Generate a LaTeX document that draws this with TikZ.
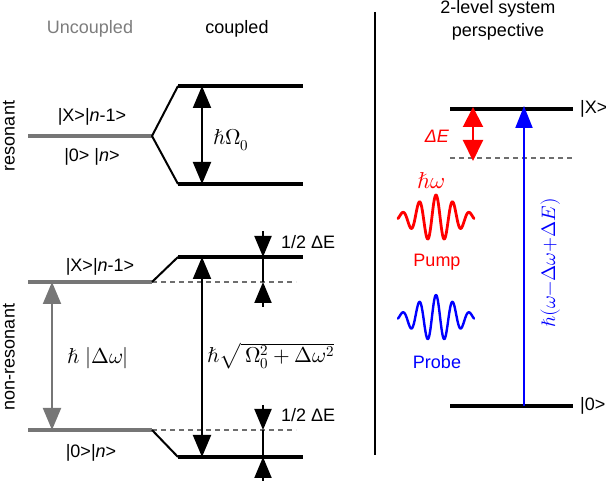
\documentclass[tikz,border=0pt]{standalone}
\usepackage{fontspec}
\usepackage{unicode-math}
\setmainfont{Liberation Sans}
\setmathfont{Latin Modern Math}
\usetikzlibrary{arrows.meta}
\definecolor{lvgray}{RGB}{118,118,118}
\definecolor{txgray}{RGB}{125,125,125}
\definecolor{dshgray}{RGB}{110,110,110}
\definecolor{pumpred}{RGB}{255,0,0}
\definecolor{probeblue}{RGB}{0,0,255}
\begin{document}
\begin{tikzpicture}[x=1pt,y=-1pt,
  every node/.style={font=\fontsize{18}{20}\selectfont, inner sep=0pt},
  mlab/.style={font=\fontsize{21.5}{24}\selectfont},
  level/.style={line width=4pt},
  ulevel/.style={line width=4pt, draw=lvgray},
  diag/.style={line width=2pt, line join=round},
  dashlevel/.style={line width=1.3pt, dash pattern=on 5pt off 4pt, draw=dshgray},
  dbl/.style={line width=2pt, {Triangle[length=22pt,width=18pt]}-{Triangle[length=22pt,width=18pt]}},
  sgl/.style={line width=2pt, -{Triangle[length=21pt,width=17pt]}},
  wave/.style={line width=2.8pt, line join=round, line cap=round}
]
\useasboundingbox (0,0) rectangle (606,481);

% headings
\node[text=txgray] (hUnc) at (90,29) {Uncoupled};
\node (hCoup) at (237,29) {coupled};
\node (hTwo) at (498,9) {2-level system};
\node (hPers) at (498,32) {perspective};
\node[rotate=90] (lRes) at (9,136) {resonant};
\node[rotate=90] (lNon) at (9,357) {non-resonant};

% ---------- resonant ----------
\coordinate (rU0) at (28,136); \coordinate (rU1) at (152,136);
\coordinate (rXa) at (178,86);  \coordinate (rXb) at (303,86);
\coordinate (r0a) at (178,184); \coordinate (r0b) at (303,184);
\draw[ulevel] (rU0) -- (rU1);
\draw[diag] (rXa) -- (rU1) -- (r0a);
\draw[level] (rXa) -- (rXb);
\draw[level] (r0a) -- (r0b);
\coordinate (rAt) at (202,86); \coordinate (rAb) at (202,184);
\draw[dbl] (rAt) -- (rAb);
\node[mlab] (rOm) at (231,140) {$\hbar\Omega_0$};
\node (rKx) at (92,117) {|X>|\textit{n}-1>};
\node (rK0) at (92,157) {|0> |\textit{n}>};

% ---------- non-resonant ----------
\coordinate (nU0) at (28,282); \coordinate (nU1) at (152,282); \coordinate (nUd) at (296,282);
\coordinate (nL0) at (28,430); \coordinate (nL1) at (152,430); \coordinate (nLd) at (296,430);
\coordinate (nXa) at (178,257); \coordinate (nXb) at (303,257);
\coordinate (n0a) at (178,457); \coordinate (n0b) at (303,457);
\draw[dashlevel] (nU1) -- (nUd);
\draw[dashlevel] (nL1) -- (nLd);
\draw[ulevel] (nU0) -- (nU1);
\draw[ulevel] (nL0) -- (nL1);
\draw[diag] (nU1) -- (nXa);
\draw[diag] (nL1) -- (n0a);
\draw[level] (nXa) -- (nXb);
\draw[level] (n0a) -- (n0b);
% gray arrow
\coordinate (gAt) at (52,282); \coordinate (gAb) at (52,430);
\draw[dbl, draw=lvgray, fill=lvgray] (gAt) -- (gAb);
\node[mlab] (gLab) at (98,358) {$\hbar\;|\Delta\omega|$};
% black arrow
\coordinate (bAt) at (202,257); \coordinate (bAb) at (202,457);
\draw[dbl] (bAt) -- (bAb);
\node[mlab] (bLab) at (271,356) {$\hbar\sqrt{\,\Omega_0^2+\Delta\omega^2}$};
% small 1/2 dE arrows (upper)
\coordinate (s1a) at (263,231); \coordinate (s1b) at (263,257);
\coordinate (s1c) at (263,282); \coordinate (s1d) at (263,307);
\draw[sgl] (s1a) -- (s1b);
\draw[line width=2pt] (s1b) -- (s1c);
\draw[sgl] (s1d) -- (s1c);
\node[anchor=west] (s1l) at (281,242) {1/2 ΔE};
% small arrows (lower)
\coordinate (s2a) at (263,405); \coordinate (s2b) at (263,430);
\coordinate (s2c) at (263,457); \coordinate (s2d) at (263,482);
\draw[sgl] (s2a) -- (s2b);
\draw[line width=2pt] (s2b) -- (s2c);
\draw[sgl] (s2d) -- (s2c);
\node[anchor=west] (s2l) at (281,415) {1/2 ΔE};
% kets
\node (nKx) at (100,267) {|X>|\textit{n}-1>};
\node (nK0) at (91,453) {|0>|\textit{n}>};

% ---------- right panel ----------
\coordinate (sepT) at (375,12); \coordinate (sepB) at (375,455);
\draw[line width=2pt] (sepT) -- (sepB);
\coordinate (xa) at (450,109); \coordinate (xb) at (573,109);
\coordinate (da) at (450,158); \coordinate (db) at (573,158);
\coordinate (ga) at (450,406); \coordinate (gb) at (573,406);
\draw[dashlevel] (da) -- (db);
\draw[level] (xa) -- (xb);
\draw[level] (ga) -- (gb);
\node[anchor=west] (kX) at (580,109) {|X>};
\node[anchor=west] (k0) at (580,406) {|0>};
% blue arrow
\coordinate (blB) at (524,406); \coordinate (blT) at (524,106);
\draw[probeblue, line width=2pt, -{Triangle[length=22pt,width=17pt]}] (blB) -- (blT);
\node[rotate=90, text=probeblue, font=\fontsize{19.5}{22}\selectfont] (blLab) at (551,263) {$\hbar(\omega{-}\Delta\omega{+}\Delta E)$};
% red arrow
\coordinate (reT) at (473,107); \coordinate (reB) at (473,161);
\draw[pumpred, line width=2pt, {Triangle[length=20pt,width=20pt]}-{Triangle[length=21pt,width=20pt]}] (reT) -- (reB);
\node[text=pumpred] (dE) at (437,136) {\textit{ΔE}};
\node[text=pumpred, font=\fontsize{23}{25}\selectfont] (hw) at (431,181) {$\hbar\omega$};
% waves
\draw[wave, pumpred] plot[domain=-38:38, samples=160, smooth] ({\x+436}, {218 - 23*exp(-(\x/28)*(\x/28))*cos(360*\x/16.7)});
\node[text=pumpred] (pump) at (437,262) {Pump};
\draw[wave, probeblue, line width=2.4pt] plot[domain=-38:38, samples=160, smooth] ({\x+436}, {318 - 23*exp(-(\x/28)*(\x/28))*cos(360*\x/16.7)});
\node[text=probeblue] (probe) at (437,362) {Probe};
\end{tikzpicture}
\end{document}
